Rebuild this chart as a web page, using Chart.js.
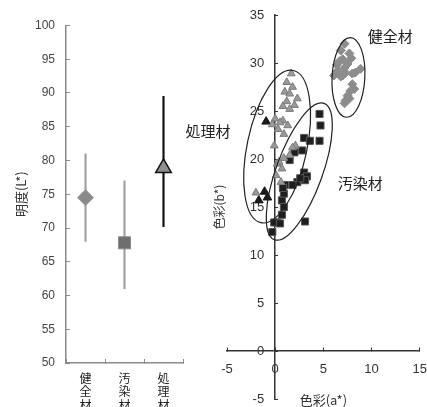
<!DOCTYPE html>
<html><head><meta charset="utf-8">
<script src="https://cdn.jsdelivr.net/npm/chart.js@4"></script>
<style>
html,body{margin:0;padding:0;background:#fff;width:427px;height:407px;overflow:hidden;}
canvas{position:absolute;}
#left{left:0;top:0;}
#right{left:180px;top:0;}
</style></head><body>
<canvas id="left" width="192" height="427"></canvas>
<canvas id="right" width="261" height="407"></canvas>
<script>
// ---- left panel data: lightness L* ----
const categories = ['健全材', '汚染材', '処理材'];
const lightnessMean = [74.5, 67.8, 78.9];
const lightnessLow = [68.0, 61.0, 70.2];
const lightnessHigh = [81.0, 77.0, 89.5];
const lightnessTicks = [50, 55, 60, 65, 70, 75, 80, 85, 90, 95, 100];

// ---- right panel data: a* / b* ----
const kenA = [7.2, 6.8, 7.7, 6.7, 7.5, 6.5, 7.3, 8.3, 8.85, 6.1, 7.0, 8.0, 7.0, 7.2, 6.4, 7.9, 8.0, 7.8, 7.5, 7.3, 7.2, 7.7, 8.2, 6.8];
const kenB = [32.0, 31.3, 31.0, 30.2, 29.9, 29.2, 29.0, 29.0, 29.4, 28.7, 28.7, 28.9, 30.4, 29.5, 29.8, 30.5, 27.8, 27.1, 26.6, 26.1, 25.8, 26.3, 27.3, 28.6];
const shoriA = [1.67, 1.2, 1.8, 1.0, 1.5, 2.3, 1.2, 2.0, 0.8, 1.5, 0.0, 0.8, 1.3, 0.3, 0.9, -0.3, 0.5, -0.1, 2.1, 0.2, 0.7, 0.1, 0.6, 0.9, 1.5, 0.4, 1.8, -2.0];
const shoriB = [28.9, 28.0, 27.5, 27.0, 26.8, 26.3, 26.0, 25.6, 25.5, 25.2, 24.2, 24.0, 23.5, 23.1, 22.6, 23.6, 23.8, 21.4, 21.4, 19.5, 19.0, 18.3, 17.6, 20.1, 20.4, 19.7, 21.2, 16.5];
const shoriDarkA = [-0.94, -1.1, -0.8, -1.7];
const shoriDarkB = [23.9, 16.6, 16.0, 15.7];
const osenA = [4.6, 4.7, 3.0, 3.6, 4.6, 2.8, 2.0, 1.5, 3.0, 3.3, 2.3, 3.1, 1.0, 1.8, 2.6, 0.7, 0.9, 0.7, 0.2, -0.1, 3.1, -0.3, 0.5, 0.9, 0.8];
const osenB = [24.7, 23.5, 22.2, 21.9, 21.9, 20.9, 20.7, 19.9, 18.6, 18.2, 17.6, 17.8, 17.3, 17.3, 18.0, 15.7, 15.0, 14.2, 13.4, 13.4, 13.5, 12.4, 13.3, 16.4, 17.0];
const aTicks = [-5, 0, 5, 10, 15];
const bTicks = [-5, 0, 5, 10, 15, 20, 25, 30, 35];

// group ellipses (center, half-axes in data units, tilt in degrees) and labels
const groupLabels = ['健全材', '処理材', '汚染材'];
const ellipseCenterA = [7.6, 0.2, 2.5];
const ellipseCenterB = [28.5, 21.3, 18.7];
const ellipseHalfA = [1.7, 3.1, 2.4];
const ellipseHalfB = [4.15, 8.1, 7.55];
const ellipseTilt = [3, 12, 20];
const labelA = [9.6, -9.3, 6.5];
const labelB = [32.8, 22.9, 17.5];

const NUM = 'Liberation Sans';
const CJK = 'Noto Sans CJK JP';
const B_LABEL_GAP_A = -1.15; // b* tick labels sit a little left of the a*=0 axis

new Chart(document.getElementById('left'), {
  type: 'bar',
  data: {
    labels: categories.map(c => c.split('')),
    datasets: [
      {
        type: 'line', label: '平均', data: lightnessMean, showLine: false, order: 0,
        pointStyle: ['rectRot', 'rect', 'triangle'],
        pointRadius: [8, 8.5, 9],
        pointBackgroundColor: ['#8a8a8a', '#6e6e6e', '#8f8f8f'],
        pointBorderColor: ['#9a9a9a', '#8a8a8a', '#111'],
        pointBorderWidth: [1, 1, 1.5]
      },
      {
        type: 'bar', label: '範囲', order: 1,
        data: lightnessLow.map((v, i) => [v, lightnessHigh[i]]),
        backgroundColor: ['#a0a0a0', '#a0a0a0', '#111'],
        barThickness: 1.5
      }
    ]
  },
  options: {
    responsive: false, animation: false,
    layout: { autoPadding: false, padding: { left: 10, right: 9, top: 25.5, bottom: 2.4 } },
    plugins: { legend: { display: false }, tooltip: { enabled: false } },
    scales: {
      x: {
        grid: { drawOnChartArea: false, tickLength: -4, color: '#8a8a8a', offset: true },
        border: { color: '#8a8a8a', width: 1.5 },
        ticks: { padding: 13, color: '#222', autoSkip: false, maxRotation: 0,
                 font: { family: CJK, size: 12, lineHeight: 1.1 } }
      },
      y: {
        min: 50, max: 100,
        afterBuildTicks: s => { s.ticks = lightnessTicks.map(v => ({ value: v })); },
        grid: { drawOnChartArea: false, tickLength: -4, color: '#8a8a8a' },
        border: { color: '#8a8a8a', width: 1.5 },
        ticks: { padding: 15, color: '#444', font: { family: NUM, size: 12 } },
        title: { display: true, text: '明度(L*)', color: '#333',
                 font: { family: CJK, size: 13 }, padding: { top: 3, bottom: -8.6 } }
      }
    }
  }
});

const ellipsePlugin = {
  id: 'groupEllipses',
  afterDatasetsDraw(chart) {
    const { ctx } = chart;
    const x = chart.scales.x, y = chart.scales.y;
    ctx.save();
    ctx.strokeStyle = '#222';
    ctx.lineWidth = 1.2;
    ellipseCenterA.forEach((ca, i) => {
      const px = x.getPixelForValue(ca), py = y.getPixelForValue(ellipseCenterB[i]);
      const rx = Math.abs(x.getPixelForValue(ca + ellipseHalfA[i]) - px);
      const ry = Math.abs(y.getPixelForValue(ellipseCenterB[i] + ellipseHalfB[i]) - py);
      ctx.beginPath();
      ctx.ellipse(px, py, rx, ry, ellipseTilt[i] * Math.PI / 180, 0, 2 * Math.PI);
      ctx.stroke();
    });
    ctx.fillStyle = '#222';
    ctx.font = '15px "' + CJK + '"';
    ctx.textAlign = 'left';
    ctx.textBaseline = 'middle';
    groupLabels.forEach((t, i) => ctx.fillText(t, x.getPixelForValue(labelA[i]), y.getPixelForValue(labelB[i])));
    ctx.restore();
  }
};

const pts = (A, B) => A.map((a, i) => ({ x: a, y: B[i] }));
const noGrid = { display: false, drawTicks: false, tickLength: 0 };

new Chart(document.getElementById('right'), {
  type: 'scatter',
  data: {
    datasets: [
      { label: '健全材', data: pts(kenA, kenB), pointStyle: 'rectRot', pointRadius: 4.5,
        backgroundColor: '#8c8c8c', borderColor: '#8c8c8c', borderWidth: 1 },
      { label: '処理材', data: pts(shoriA, shoriB), pointStyle: 'triangle', pointRadius: 4.5,
        backgroundColor: '#9a9a9a', borderColor: '#7a7a7a', borderWidth: 1 },
      { label: '処理材 ', data: pts(shoriDarkA, shoriDarkB), pointStyle: 'triangle', pointRadius: 5,
        backgroundColor: '#1a1a1a', borderColor: '#1a1a1a', borderWidth: 1 },
      { label: '汚染材', data: pts(osenA, osenB), pointStyle: 'rect', pointRadius: 5,
        backgroundColor: '#1e1e1e', borderColor: '#555', borderWidth: 1 }
    ]
  },
  plugins: [ellipsePlugin],
  options: {
    responsive: false, animation: false,
    layout: { autoPadding: false, padding: { left: 31.8, right: 0, top: 15, bottom: 0 } },
    plugins: { legend: { display: false }, tooltip: { enabled: false } },
    scales: {
      x: {
        type: 'linear', position: { y: 0 }, min: -5, max: 15,
        afterBuildTicks: s => { s.ticks = aTicks.map(v => ({ value: v })); },
        grid: { drawOnChartArea: false, tickLength: -4, color: '#333' },
        border: { color: '#333', width: 1.5 },
        ticks: { padding: 14, color: '#333', font: { family: NUM, size: 13 } }
      },
      y: {
        type: 'linear', position: { x: 0 }, min: -5, max: 35,
        afterBuildTicks: s => { s.ticks = bTicks.map(v => ({ value: v })); },
        grid: { drawOnChartArea: false, tickLength: -4, color: '#333' },
        border: { color: '#333', width: 1.5 },
        ticks: { display: false }
      },
      yLabels: {
        axis: 'y', type: 'linear', position: { x: B_LABEL_GAP_A }, min: -5, max: 35,
        afterBuildTicks: s => { s.ticks = bTicks.map(v => ({ value: v })); },
        grid: noGrid, border: { display: false },
        ticks: { padding: 0, color: '#333', font: { family: NUM, size: 13 } }
      },
      xTitle: {
        axis: 'x', type: 'linear', position: 'bottom',
        ticks: { display: false }, grid: noGrid, border: { display: false },
        title: { display: true, text: '色彩(a*)', color: '#333',
                 font: { family: CJK, size: 13 }, padding: { top: -6.6, bottom: -2 } }
      },
      yTitle: {
        axis: 'y', type: 'linear', position: 'left',
        ticks: { display: false }, grid: noGrid, border: { display: false },
        title: { display: true, text: '色彩(b*)', color: '#333',
                 font: { family: CJK, size: 12 }, padding: { top: 0, bottom: 0.8 } }
      }
    }
  }
});
</script>
</body></html>
